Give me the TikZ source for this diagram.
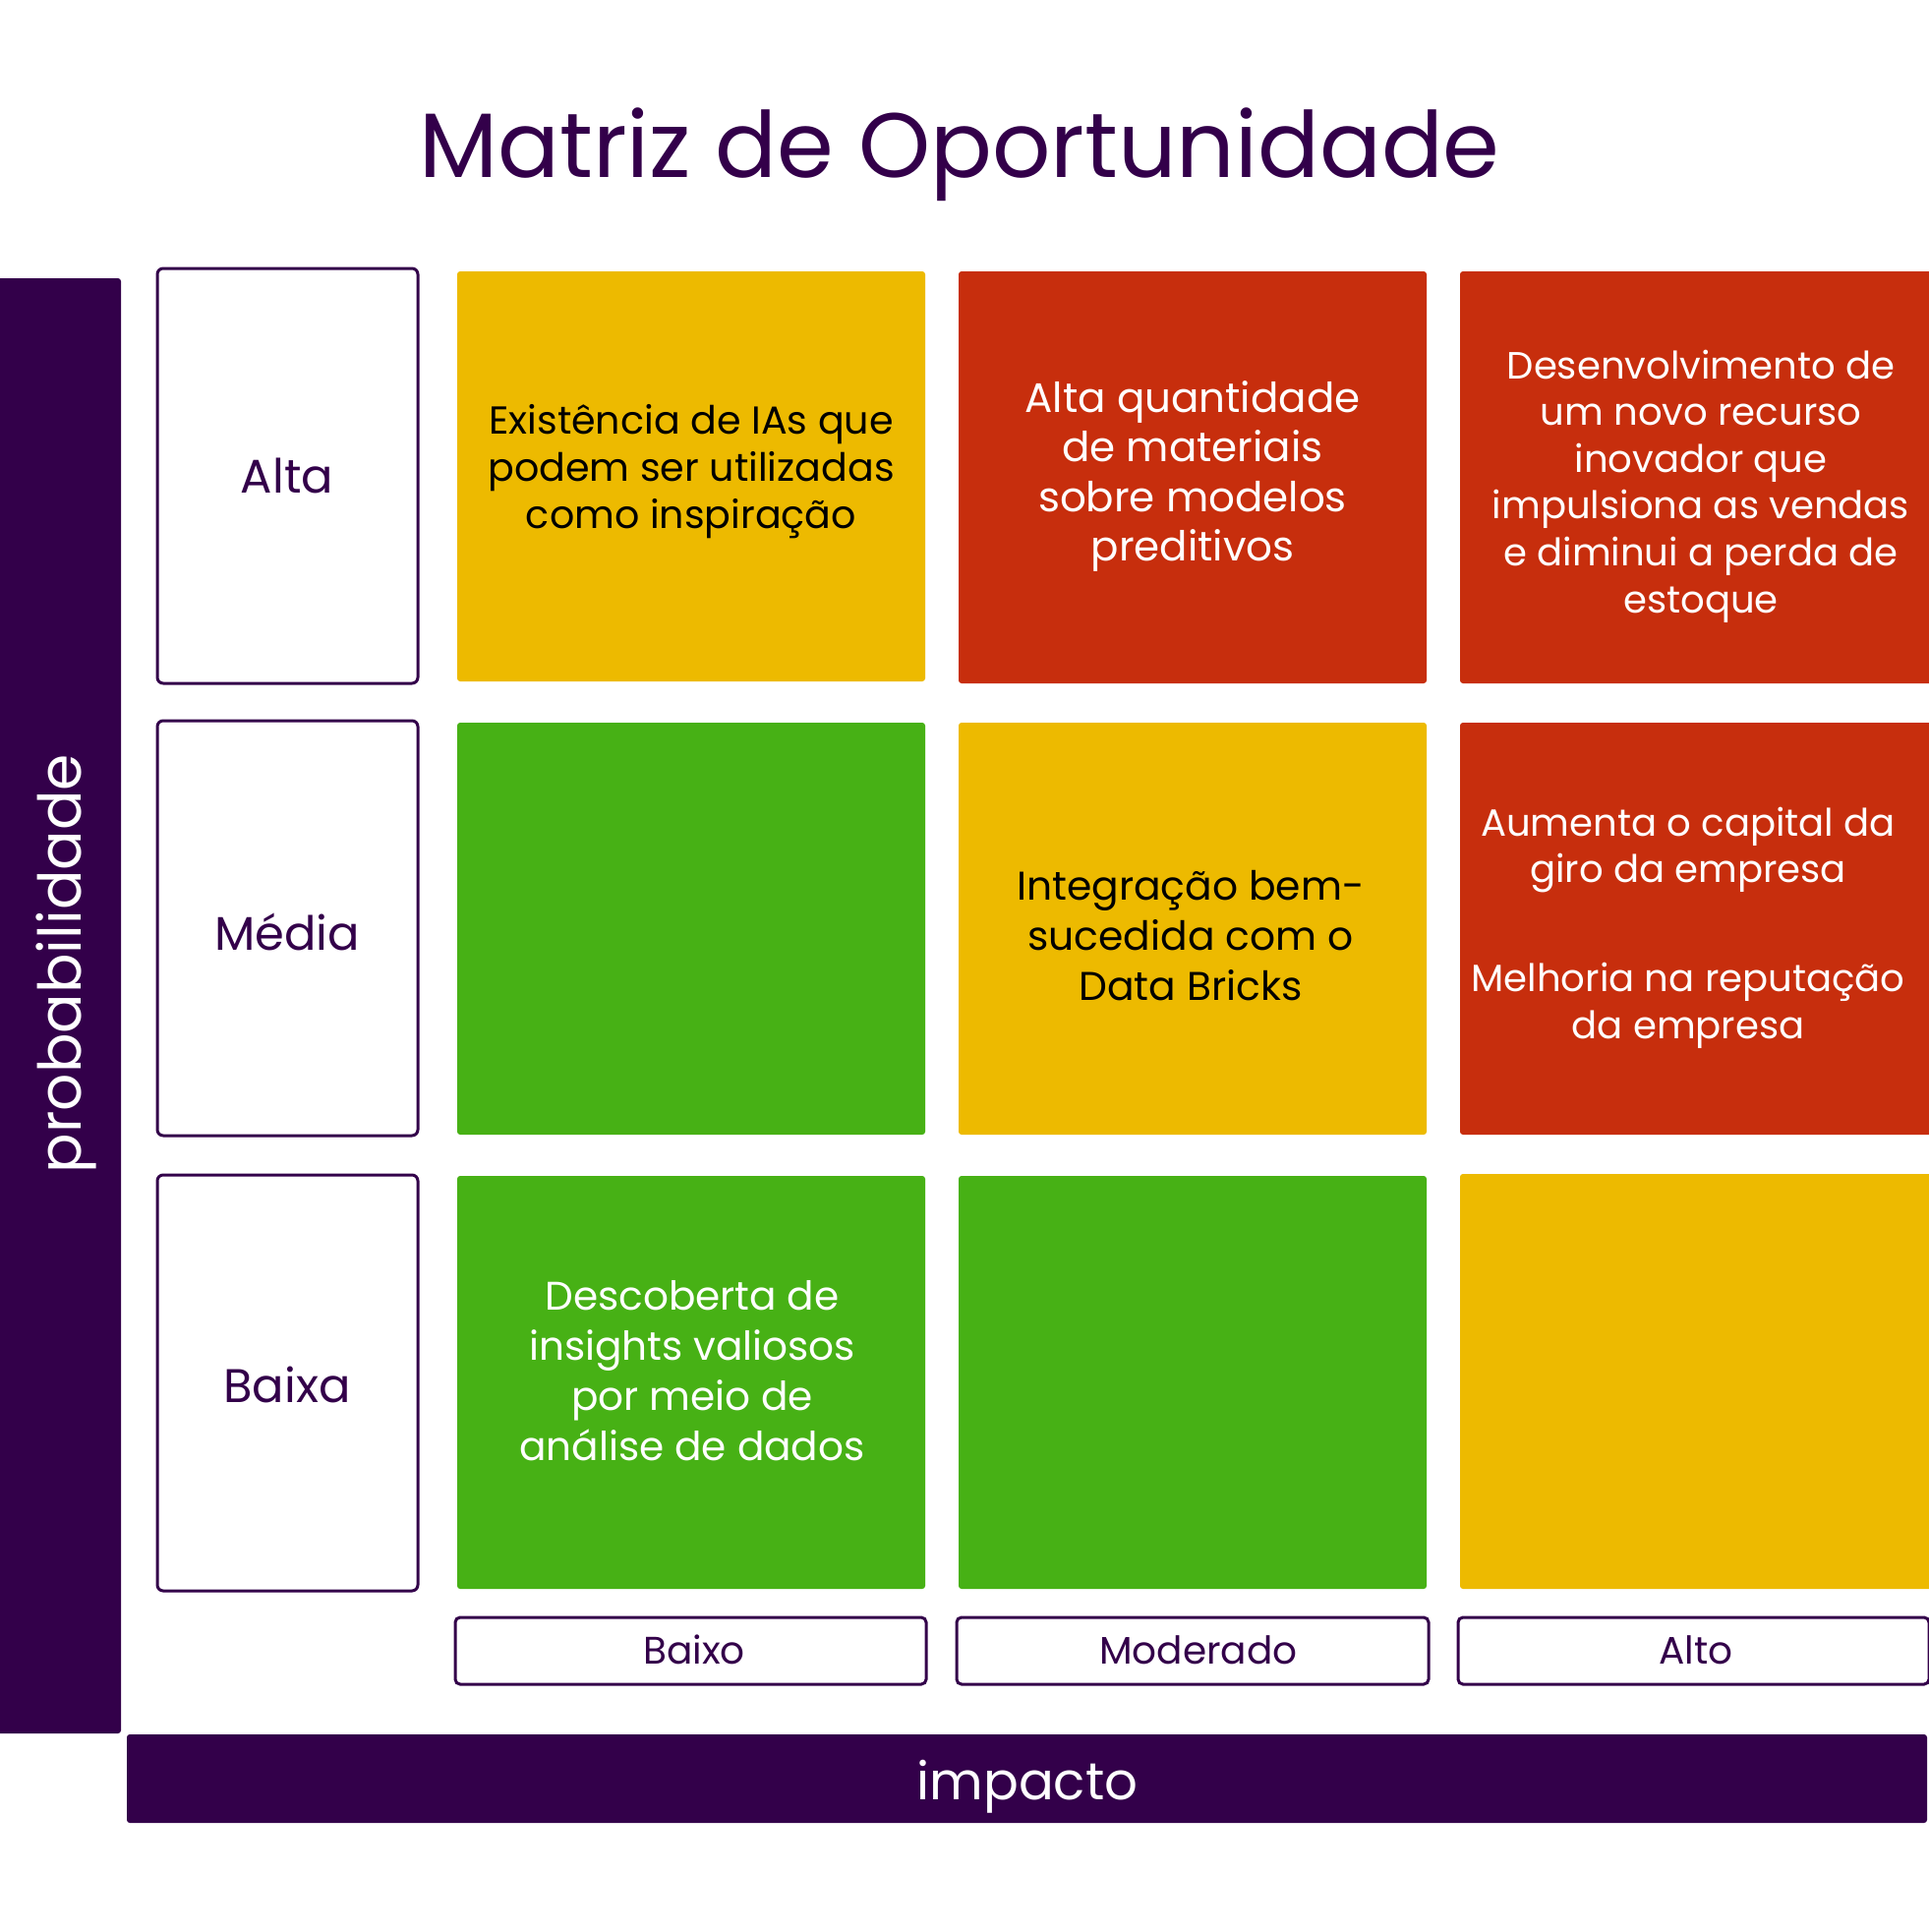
\documentclass[tikz,border=0pt]{standalone}
\usepackage{fontspec}
\setmainfont{Poppins}
\definecolor{dpurple}{HTML}{33004A}
\definecolor{myyellow}{HTML}{EDBA00}
\definecolor{myred}{HTML}{C72E0D}
\definecolor{mygreen}{HTML}{47B115}
\newcommand{\fs}[2]{\fontsize{#1}{#2}\selectfont}
\begin{document}
\begin{tikzpicture}[x=1pt,y=-1pt,
  bar/.style={fill=dpurple, rounded corners=3pt},
  rowlab/.style={draw=dpurple, line width=3pt, rounded corners=6pt, fill=white},
  collab/.style={draw=dpurple, line width=3pt, rounded corners=5pt, fill=white},
  cellbox/.style={rounded corners=3pt},
  celltxt/.style={align=center, inner sep=0pt, anchor=center},
  labtxt/.style={anchor=base, text=dpurple, inner sep=0pt}
]
\useasboundingbox (0,0) rectangle (1962,1965);
\fill[white] (0,0) rectangle (1962,1965);

% title
\node[labtxt, font=\fs{93}{104}] (title) at (976,180) {Matriz de Oportunidade};

% axis bars
\fill[bar] (-10,283) rectangle (123,1763);
\node[anchor=base, rotate=90, text=white, inner sep=0pt, font=\fs{60}{70}] (prob) at (82,980) {probabilidade};
\fill[bar] (129,1764) rectangle (1960,1854);
\node[anchor=base, text=white, inner sep=0pt, font=\fs{53}{60}] (imp) at (1045,1830) {impacto};

% row labels
\draw[rowlab] (160,273) rectangle (425,695);
\draw[rowlab] (160,733) rectangle (425,1155);
\draw[rowlab] (160,1195) rectangle (425,1618);
\node[labtxt, font=\fs{48}{56}] (alta) at (292,501) {Alta};
\node[labtxt, font=\fs{48}{56}] (media) at (292,966) {Média};
\node[labtxt, font=\fs{48}{56}] (baixa) at (292,1426) {Baixa};

% column labels
\draw[collab] (463,1645) rectangle (942,1713);
\draw[collab] (973,1645) rectangle (1453,1713);
\draw[collab] (1483,1645) rectangle (1962,1713);
\node[labtxt, font=\fs{39}{46}] (baixo) at (706,1692) {Baixo};
\node[labtxt, font=\fs{39}{46}] (moder) at (1219,1692) {Moderado};
\node[labtxt, font=\fs{39}{46}] (alto) at (1725,1692) {Alto};

% cells row 1
\fill[cellbox, myyellow] (465,276) rectangle (941,693);
\fill[cellbox, myred] (975,276) rectangle (1451,695);
\fill[cellbox, myred] (1485,276) rectangle (1968,695);
% row 2
\fill[cellbox, mygreen] (465,735) rectangle (941,1154);
\fill[cellbox, myyellow] (975,735) rectangle (1451,1154);
\fill[cellbox, myred] (1485,735) rectangle (1968,1154);
% row 3
\fill[cellbox, mygreen] (465,1196) rectangle (941,1616);
\fill[cellbox, mygreen] (975,1196) rectangle (1451,1616);
\fill[cellbox, myyellow] (1485,1194) rectangle (1968,1616);

% cell texts
\node[celltxt, text=black, font=\fs{39.6}{48}] (t11) at (703,479.4)
  {\strut Existência de IAs que\\podem ser utilizadas\\como inspiração\strut};
\node[celltxt, text=white, font=\fs{42}{50.5}] (t12) at (1213,485)
  {\strut Alta quantidade\\de materiais\\sobre modelos\\preditivos\strut};
\node[celltxt, text=white, font=\fs{38.6}{47.6}] (t13) at (1730,494.5)
  {\strut Desenvolvimento de\\um novo recurso\\inovador que\\impulsiona as vendas\\e diminui a perda de\\estoque\strut};
\node[celltxt, text=black, font=\fs{40.8}{51}] (t22) at (1211,956)
  {\strut Integração bem-\\sucedida com o\\Data Bricks\strut};
\node[celltxt, text=white, font=\fs{38.6}{47.5}] (t23) at (1717,943.5)
  {\strut Aumenta o capital da\\giro da empresa\\[63.5pt]Melhoria na reputação\\da empresa\strut};
\node[celltxt, text=white, font=\fs{40.6}{51}] (t31) at (704,1398.5)
  {\strut Descoberta de\\insights valiosos\\por meio de\\análise de dados\strut};
\end{tikzpicture}
\end{document}
